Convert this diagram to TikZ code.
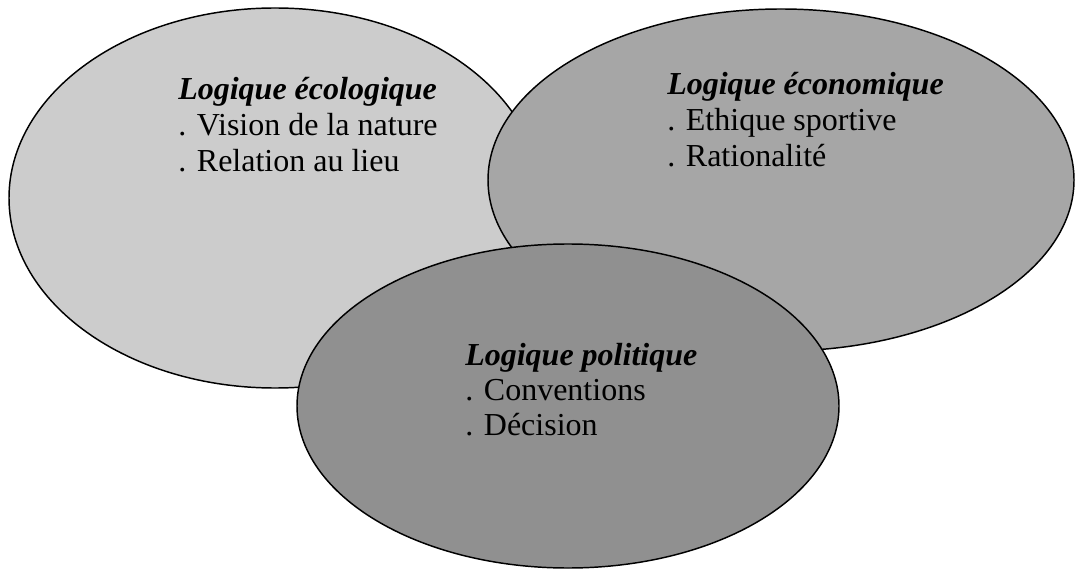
\documentclass[tikz,border=0pt]{standalone}
\usepackage{fontspec}
\setmainfont{Liberation Serif}
\definecolor{ecofill}{gray}{0.80}
\definecolor{econfill}{gray}{0.65}
\definecolor{polfill}{gray}{0.565}
\begin{document}
\begin{tikzpicture}[x=0.75pt,y=-0.75pt,
  bubble/.style={draw=black,line width=1.1pt},
  head/.style={anchor=base west,inner sep=0pt,font=\fontsize{24}{27}\selectfont\bfseries\itshape},
  item/.style={anchor=base west,inner sep=0pt,font=\fontsize{24}{27}\selectfont}]
\useasboundingbox (0,0) rectangle (1077,570);
\fill[white] (0,0) rectangle (1077,570);
% ellipses
\draw[bubble,fill=ecofill] (275,198) ellipse [x radius=199.5pt, y radius=142.5pt];
\draw[bubble,fill=econfill] (781,180) ellipse [x radius=219.75pt, y radius=128.25pt];
\draw[bubble,fill=polfill] (568,406) ellipse [x radius=203.25pt, y radius=121.5pt];
% texts
\node[head] (ecoh) at (178,100) {Logique écologique};
\node[item] (eco1) at (178,136) {. Vision de la nature};
\node[item] (eco2) at (178,172) {. Relation au lieu};
\node[head] (econh) at (667,95) {Logique économique};
\node[item] (econ1) at (667,131) {. Ethique sportive};
\node[item] (econ2) at (667,167) {. Rationalité};
\node[head] (polh) at (465,365) {Logique politique};
\node[item] (pol1) at (465,400) {. Conventions};
\node[item] (pol2) at (465,435) {. Décision};
\end{tikzpicture}
\end{document}
